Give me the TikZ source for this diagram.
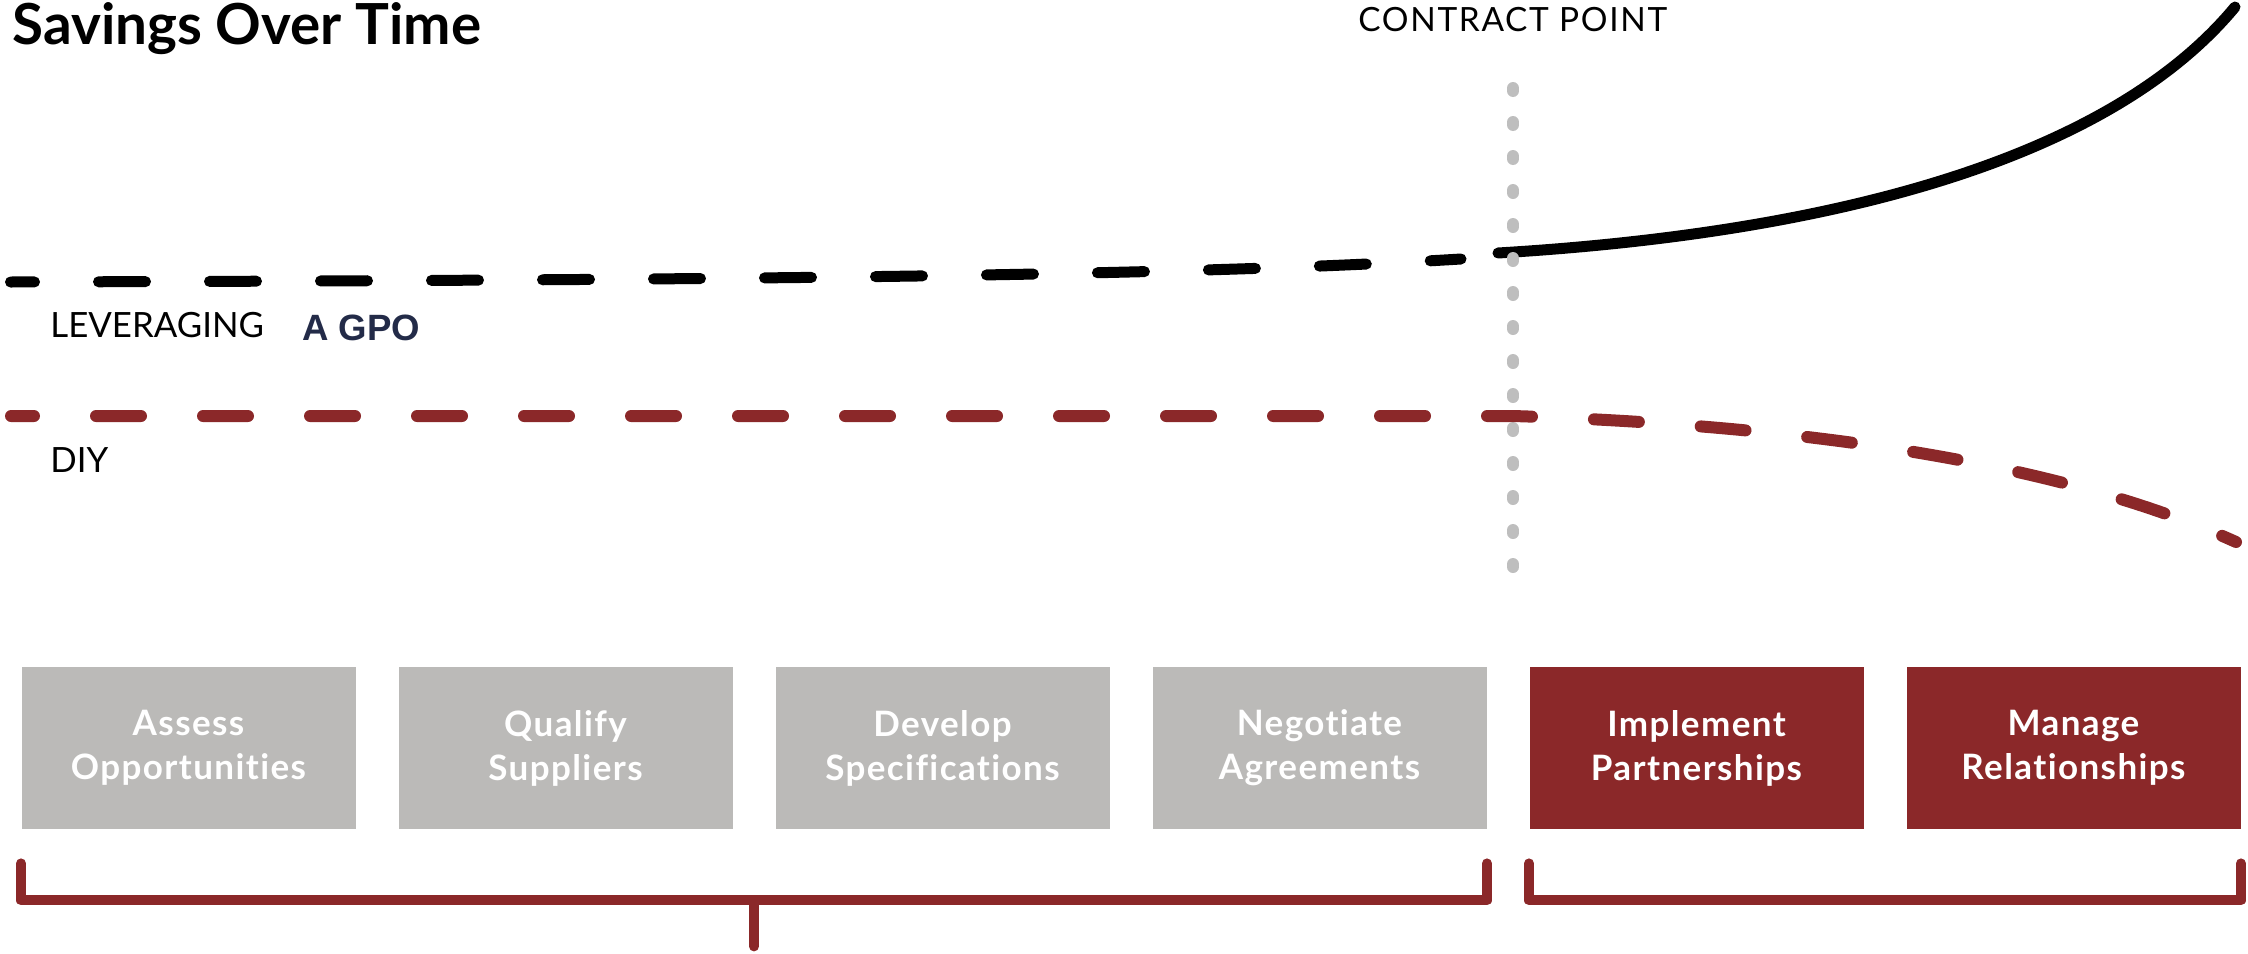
\documentclass[tikz,border=0pt]{standalone}
\usepackage{fontspec}
\setmainfont{Lato}
\newfontfamily\gpofont{Liberation Sans}
\newfontfamily\stagefont[LetterSpace=4,Ligatures=NoCommon]{Lato}
\newfontfamily\capsfont[LetterSpace=5]{Lato}
\usetikzlibrary{positioning,calc}
\definecolor{gpored}{RGB}{139,40,41}
\definecolor{boxgray}{RGB}{187,186,184}
\definecolor{dotgray}{RGB}{190,190,190}
\definecolor{gponavy}{RGB}{35,43,72}

\begin{document}
\begin{tikzpicture}[x=0.5pt,y=-0.5pt,
    stage/.style={minimum width=167pt,minimum height=81pt,inner sep=0pt,align=center,
      text=white,font=\stagefont\fontsize{17.5}{22}\selectfont\bfseries},
    graystage/.style={stage,fill=boxgray},
    redstage/.style={stage,fill=gpored},
    bracket/.style={gpored,line width=5pt,line cap=round,line join=round},
    lbl/.style={anchor=base west,inner sep=0pt,font=\fontsize{17.4}{20}\selectfont}]

    \useasboundingbox (0,0) rectangle (2248,953);

    %Title and labels
    \node[lbl,font=\fontsize{28.3}{30}\selectfont\bfseries] (title) at (12,44) {Savings Over Time};
    \node[lbl,font=\capsfont\fontsize{16.7}{20}\selectfont] (contract) at (1358,32) {CONTRACT POINT};
    \node[lbl] (leveraging) at (50,337) {LEVERAGING};
    \node[lbl,text=gponavy,font=\fontsize{18.3}{20}\selectfont\gpofont\bfseries] (gpo) at (302,340) {A GPO};
    \node[lbl] (diy) at (50,472) {DIY};

    %Savings curves
    \draw[line width=5.5pt,line cap=round,dash pattern=on 23.5pt off 32pt,dash phase=11.5pt]
        (10.5,282) .. controls (800,280) and (1200,275) .. (1461,259);
    \draw[line width=5.5pt,line cap=round]
        (1498,253) .. controls (1800,235) and (2100,170) .. (2235,7);
    \draw[dotgray,line width=6pt,line cap=round,dash pattern=on 1.5pt off 15.5pt]
        (1513,88) -- (1513,568);
    \draw[gpored,line width=6pt,line cap=round,dash pattern=on 22.5pt off 31pt,dash phase=11pt]
        (11,416) -- (1513,416) .. controls (1800,425) and (2060,462) .. (2236,542);

    %Boxes
    \node[graystage] (assess) at (188.5,748) {Assess\\Opportunities};
    \node[graystage] (qualify) at (565.5,748) {Qualify\\Suppliers};
    \node[graystage] (develop) at (942.5,748) {Develop\\Specifications};
    \node[graystage] (negotiate) at (1319.5,748) {Negotiate\\Agreements};
    \node[redstage] (implement) at (1696.5,748) {Implement\\Partnerships};
    \node[redstage] (manage) at (2073.5,748) {Manage\\Relationships};

    %Brackets
    \draw[bracket] ([yshift=-17pt]assess.south west) -- ([yshift=-35.5pt]assess.south west)
        -- ([yshift=-35.5pt]negotiate.south east) -- ([yshift=-17pt]negotiate.south east);
    \coordinate (leftmid) at ($(assess.south west)!.5!(negotiate.south east)$);
    \draw[bracket] ([yshift=-35.5pt]leftmid) -- ([yshift=-58.5pt]leftmid);
    \draw[bracket] ([yshift=-17pt]implement.south west) -- ([yshift=-35.5pt]implement.south west)
        -- ([yshift=-35.5pt]manage.south east) -- ([yshift=-17pt]manage.south east);
\end{tikzpicture}
\end{document}
